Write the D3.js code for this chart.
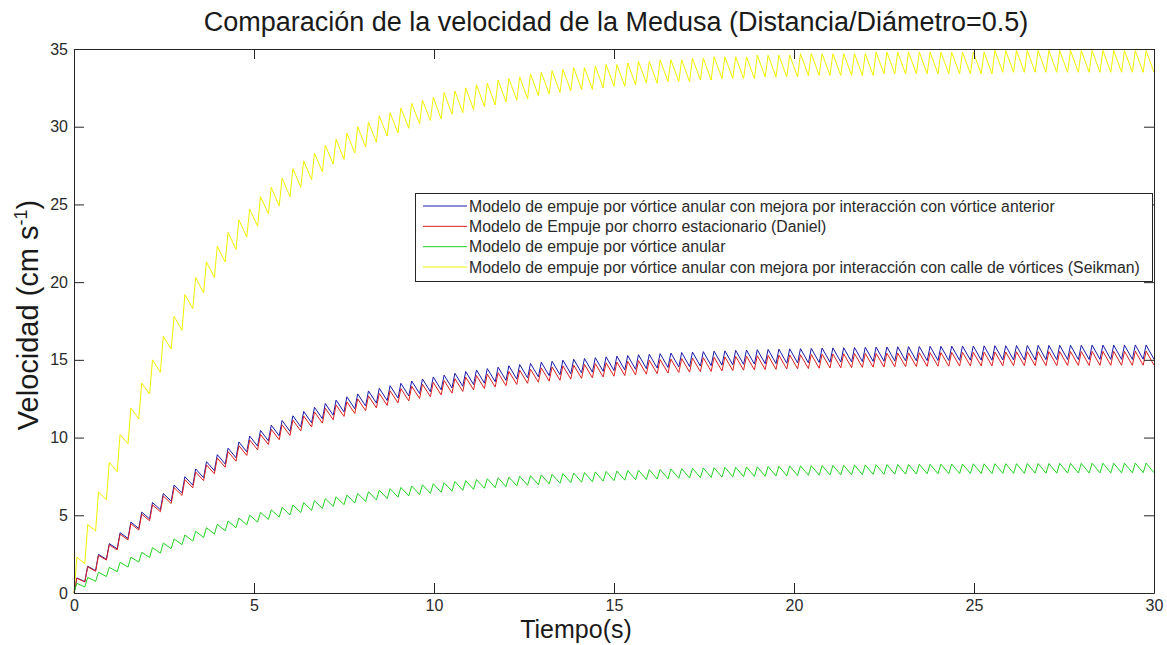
<!DOCTYPE html>
<html>
<head>
<meta charset="utf-8">
<script src="https://cdn.jsdelivr.net/npm/d3@7"></script>
<style>
  html, body { margin: 0; padding: 0; background: #fff; }
  svg { display: block; font-family: "Liberation Sans", Arial, Helvetica, sans-serif; }
</style>
</head>
<body>
<svg id="chart" width="1167" height="645"></svg>
<script>
// Pulse timing: one contraction every 0.3 s, speed climbs during the first 0.08 s
const pulsePeriod = 0.3;
const riseTime = 0.08;

const xTicks = [0, 5, 10, 15, 20, 25, 30];
const yTicks = [0, 5, 10, 15, 20, 25, 30, 35];

const seriesNames = [
  "Modelo de empuje por vórtice anular con mejora por interacción con vórtice anterior",
  "Modelo de Empuje por chorro estacionario (Daniel)",
  "Modelo de empuje por vórtice anular",
  "Modelo de empuje por vórtice anular con mejora por interacción con calle de vórtices (Seikman)"
];
const seriesColors = ["#1a1aa8", "#dc2020", "#22d422", "#f2f200"];

// Peak speed reached in each pulse and the lowest speed before the next one (cm/s)
const peaksAnterior = [
  0.97, 1.72, 2.48, 3.18, 3.88, 4.56, 5.20, 5.82, 6.40, 6.95,
  7.48, 7.98, 8.45, 8.90, 9.32, 9.72, 10.10, 10.46, 10.80, 11.10,
  11.40, 11.68, 11.95, 12.19, 12.41, 12.62, 12.81, 13.00, 13.17, 13.34,
  13.49, 13.64, 13.77, 13.90, 14.02, 14.14, 14.25, 14.35, 14.44, 14.53,
  14.62, 14.70, 14.77, 14.85, 14.91, 14.98, 15.04, 15.09, 15.14, 15.19,
  15.24, 15.28, 15.33, 15.36, 15.40, 15.44, 15.47, 15.50, 15.53, 15.56,
  15.58, 15.61, 15.63, 15.65, 15.67, 15.69, 15.71, 15.72, 15.74, 15.76,
  15.77, 15.78, 15.80, 15.81, 15.82, 15.83, 15.84, 15.85, 15.86, 15.87,
  15.87, 15.88, 15.89, 15.89, 15.90, 15.91, 15.91, 15.92, 15.92, 15.93,
  15.93, 15.94, 15.94, 15.94, 15.95, 15.95, 15.95, 15.95, 15.96, 15.96
];
const troughsAnterior = [
  0.73, 1.44, 2.17, 2.84, 3.51, 4.15, 4.77, 5.36, 5.91, 6.44,
  6.94, 7.42, 7.87, 8.30, 8.70, 9.08, 9.45, 9.79, 10.11, 10.40,
  10.69, 10.95, 11.21, 11.44, 11.65, 11.85, 12.03, 12.22, 12.38, 12.54,
  12.68, 12.83, 12.95, 13.07, 13.19, 13.30, 13.41, 13.50, 13.59, 13.68,
  13.76, 13.84, 13.91, 13.98, 14.04, 14.11, 14.16, 14.21, 14.26, 14.31,
  14.35, 14.39, 14.44, 14.47, 14.51, 14.55, 14.57, 14.60, 14.63, 14.66,
  14.68, 14.71, 14.73, 14.75, 14.76, 14.78, 14.80, 14.81, 14.83, 14.85,
  14.86, 14.87, 14.89, 14.90, 14.91, 14.92, 14.93, 14.94, 14.95, 14.96,
  14.96, 14.97, 14.98, 14.98, 14.98, 14.99, 14.99, 15.00, 15.00, 15.01,
  15.01, 15.02, 15.02, 15.02, 15.03, 15.03, 15.03, 15.03, 15.04, 15.04
];

const peaksDaniel = [
  0.95, 1.68, 2.42, 3.10, 3.78, 4.45, 5.07, 5.67, 6.24, 6.78,
  7.29, 7.78, 8.24, 8.68, 9.09, 9.48, 9.85, 10.20, 10.53, 10.82,
  11.12, 11.39, 11.65, 11.89, 12.10, 12.30, 12.49, 12.68, 12.84, 13.01,
  13.15, 13.30, 13.43, 13.55, 13.67, 13.79, 13.89, 13.99, 14.08, 14.17,
  14.25, 14.33, 14.40, 14.48, 14.54, 14.61, 14.66, 14.71, 14.76, 14.81,
  14.86, 14.90, 14.95, 14.98, 15.02, 15.05, 15.08, 15.11, 15.14, 15.17,
  15.19, 15.22, 15.24, 15.26, 15.28, 15.30, 15.32, 15.33, 15.35, 15.37,
  15.38, 15.39, 15.41, 15.41, 15.42, 15.43, 15.44, 15.45, 15.46, 15.47,
  15.47, 15.48, 15.49, 15.49, 15.50, 15.51, 15.51, 15.52, 15.52, 15.53,
  15.53, 15.54, 15.54, 15.54, 15.55, 15.55, 15.55, 15.55, 15.56, 15.56
];
const troughsDaniel = [
  0.71, 1.40, 2.12, 2.77, 3.42, 4.05, 4.65, 5.23, 5.76, 6.28,
  6.77, 7.23, 7.67, 8.09, 8.48, 8.85, 9.21, 9.55, 9.86, 10.14,
  10.42, 10.68, 10.93, 11.15, 11.36, 11.55, 11.73, 11.91, 12.07, 12.23,
  12.36, 12.51, 12.63, 12.74, 12.86, 12.97, 13.07, 13.16, 13.25, 13.34,
  13.42, 13.49, 13.56, 13.63, 13.69, 13.76, 13.81, 13.85, 13.90, 13.95,
  13.99, 14.03, 14.08, 14.11, 14.15, 14.19, 14.21, 14.24, 14.26, 14.29,
  14.31, 14.34, 14.36, 14.38, 14.39, 14.41, 14.43, 14.44, 14.46, 14.48,
  14.49, 14.50, 14.52, 14.53, 14.54, 14.55, 14.56, 14.57, 14.58, 14.59,
  14.59, 14.60, 14.61, 14.61, 14.61, 14.62, 14.62, 14.63, 14.63, 14.63,
  14.63, 14.64, 14.64, 14.64, 14.65, 14.65, 14.65, 14.65, 14.66, 14.66
];

const peaksAnular = [
  0.62, 1.00, 1.33, 1.65, 1.97, 2.30, 2.62, 2.92, 3.21, 3.48,
  3.73, 3.97, 4.20, 4.42, 4.63, 4.82, 5.01, 5.19, 5.35, 5.51,
  5.66, 5.81, 5.94, 6.07, 6.19, 6.30, 6.41, 6.52, 6.61, 6.71,
  6.79, 6.88, 6.96, 7.03, 7.10, 7.17, 7.23, 7.30, 7.35, 7.41,
  7.46, 7.51, 7.55, 7.60, 7.64, 7.68, 7.72, 7.75, 7.79, 7.82,
  7.85, 7.88, 7.90, 7.93, 7.95, 7.98, 8.00, 8.02, 8.04, 8.06,
  8.08, 8.09, 8.11, 8.12, 8.14, 8.15, 8.17, 8.18, 8.19, 8.20,
  8.21, 8.22, 8.23, 8.24, 8.25, 8.26, 8.26, 8.27, 8.28, 8.28,
  8.29, 8.30, 8.30, 8.31, 8.31, 8.32, 8.32, 8.32, 8.33, 8.33,
  8.33, 8.34, 8.34, 8.34, 8.35, 8.35, 8.35, 8.35, 8.36, 8.36
];
const troughsAnular = [
  0.39, 0.75, 1.06, 1.37, 1.67, 1.99, 2.29, 2.57, 2.85, 3.11,
  3.34, 3.57, 3.79, 4.00, 4.20, 4.38, 4.56, 4.73, 4.88, 5.03,
  5.18, 5.32, 5.44, 5.57, 5.68, 5.79, 5.89, 5.99, 6.08, 6.17,
  6.25, 6.34, 6.41, 6.48, 6.55, 6.61, 6.67, 6.74, 6.78, 6.84,
  6.89, 6.93, 6.97, 7.02, 7.06, 7.10, 7.13, 7.16, 7.20, 7.23,
  7.26, 7.29, 7.31, 7.33, 7.35, 7.38, 7.40, 7.42, 7.44, 7.46,
  7.48, 7.49, 7.50, 7.51, 7.53, 7.54, 7.56, 7.57, 7.58, 7.59,
  7.60, 7.61, 7.62, 7.63, 7.64, 7.65, 7.65, 7.66, 7.67, 7.67,
  7.68, 7.69, 7.69, 7.69, 7.69, 7.70, 7.70, 7.70, 7.71, 7.71,
  7.71, 7.72, 7.72, 7.72, 7.73, 7.73, 7.73, 7.73, 7.74, 7.74
];

const peaksSeikman = [
  2.3, 4.4, 6.5, 8.4, 10.2, 11.9, 13.5, 15.0, 16.5, 17.8,
  19.2, 20.3, 21.3, 22.3, 23.2, 24.0, 24.7, 25.5, 26.1, 26.7,
  27.3, 27.8, 28.3, 28.8, 29.2, 29.6, 30.0, 30.3, 30.7, 30.9,
  31.2, 31.5, 31.7, 31.9, 32.2, 32.3, 32.5, 32.7, 32.8, 33.0,
  33.1, 33.2, 33.4, 33.5, 33.6, 33.7, 33.8, 33.8, 33.9, 34.0,
  34.0, 34.1, 34.2, 34.2, 34.3, 34.3, 34.3, 34.4, 34.4, 34.5,
  34.5, 34.5, 34.5, 34.6, 34.6, 34.6, 34.6, 34.7, 34.7, 34.7,
  34.7, 34.7, 34.7, 34.7, 34.8, 34.8, 34.8, 34.8, 34.8, 34.8,
  34.8, 34.8, 34.8, 34.8, 34.8, 34.9, 34.9, 34.9, 34.9, 34.9,
  34.9, 34.9, 34.9, 34.9, 34.9, 34.9, 34.9, 34.9, 34.9, 34.9
];
const troughsSeikman = [
  1.9, 4.0, 6.0, 7.8, 9.6, 11.2, 12.8, 14.2, 15.7, 16.9,
  18.3, 19.3, 20.3, 21.3, 22.1, 22.9, 23.6, 24.4, 24.9, 25.5,
  26.1, 26.6, 27.1, 27.6, 27.9, 28.3, 28.7, 29.0, 29.4, 29.6,
  29.9, 30.2, 30.4, 30.5, 30.8, 30.9, 31.1, 31.3, 31.4, 31.6,
  31.7, 31.8, 32.0, 32.1, 32.2, 32.3, 32.4, 32.4, 32.5, 32.6,
  32.6, 32.7, 32.8, 32.8, 32.9, 32.9, 32.9, 33.0, 33.0, 33.1,
  33.1, 33.1, 33.1, 33.2, 33.2, 33.2, 33.2, 33.3, 33.3, 33.3,
  33.3, 33.3, 33.3, 33.3, 33.4, 33.4, 33.4, 33.4, 33.4, 33.4,
  33.4, 33.4, 33.4, 33.4, 33.4, 33.5, 33.5, 33.5, 33.5, 33.5,
  33.5, 33.5, 33.5, 33.5, 33.5, 33.5, 33.5, 33.5, 33.5, 33.5
];

const seriesPeaks = [peaksAnterior, peaksDaniel, peaksAnular, peaksSeikman];
const seriesTroughs = [troughsAnterior, troughsDaniel, troughsAnular, troughsSeikman];

// ---- layout ----
const svg = d3.select("#chart");
const plot = { left: 74, right: 1154, top: 49, bottom: 593 };
const axisColor = "#262626";
const labelColor = "#2a2a2a";

const x = d3.scaleLinear().domain([0, 30]).range([plot.left, plot.right]);
const y = d3.scaleLinear().domain([0, 35]).range([plot.bottom, plot.top]);

// Turn each pulse into a rise-and-decay pair of vertices, starting from rest
function pulseTrace(peaks, troughs) {
  const pts = [[0, 0]];
  peaks.forEach((p, i) => {
    const t0 = i * pulsePeriod;
    pts.push([t0 + riseTime, p]);
    pts.push([t0 + pulsePeriod, troughs[i]]);
  });
  return pts;
}

const line = d3.line().x(d => x(d[0])).y(d => y(d[1]));

const traces = svg.append("g").attr("class", "traces");
seriesPeaks.forEach((peaks, i) => {
  traces.append("path")
    .datum(pulseTrace(peaks, seriesTroughs[i]))
    .attr("fill", "none")
    .attr("stroke", seriesColors[i])
    .attr("stroke-width", 1)
    .attr("stroke-linejoin", "miter")
    .attr("d", line);
});

// ---- axes (box with inward ticks on all four sides) ----
function styleAxis(g) {
  g.selectAll("path.domain").attr("stroke", axisColor).attr("stroke-width", 1);
  g.selectAll(".tick line").attr("stroke", axisColor).attr("stroke-width", 1);
  g.selectAll(".tick text")
    .attr("fill", labelColor)
    .style("font-size", "16px")
    .style("font-family", "\"Liberation Sans\", Arial, sans-serif");
}

svg.append("g")
  .attr("transform", `translate(0,${plot.bottom})`)
  .call(d3.axisBottom(x).tickValues(xTicks).tickSizeInner(-10).tickSizeOuter(0).tickPadding(7))
  .call(styleAxis);

svg.append("g")
  .attr("transform", `translate(0,${plot.top})`)
  .call(d3.axisTop(x).tickValues(xTicks).tickSizeInner(-10).tickSizeOuter(0).tickFormat(""))
  .call(styleAxis);

svg.append("g")
  .attr("transform", `translate(${plot.left},0)`)
  .call(d3.axisLeft(y).tickValues(yTicks).tickSizeInner(-10).tickSizeOuter(0).tickPadding(6))
  .call(styleAxis);

svg.append("g")
  .attr("transform", `translate(${plot.right},0)`)
  .call(d3.axisRight(y).tickValues(yTicks).tickSizeInner(-10).tickSizeOuter(0).tickFormat(""))
  .call(styleAxis);

// ---- titles ----
svg.append("text")
  .attr("x", 616)
  .attr("y", 31)
  .attr("text-anchor", "middle")
  .attr("fill", "#1a1a1a")
  .style("font-size", "27px")
  .text("Comparación de la velocidad de la Medusa (Distancia/Diámetro=0.5)");

svg.append("text")
  .attr("x", 576)
  .attr("y", 638)
  .attr("text-anchor", "middle")
  .attr("fill", "#1a1a1a")
  .style("font-size", "25px")
  .text("Tiempo(s)");

const yLabel = svg.append("text")
  .attr("transform", "translate(38,315) rotate(-90)")
  .attr("text-anchor", "middle")
  .attr("fill", "#1a1a1a")
  .style("font-size", "29px");
yLabel.append("tspan").text("Velocidad (cm s");
yLabel.append("tspan").attr("dy", -11).style("font-size", "18px").text("-1");
yLabel.append("tspan").attr("dy", 11).text(")");

// ---- legend ----
const legend = svg.append("g").attr("class", "legend");
legend.append("rect")
  .attr("x", 415.5).attr("y", 193.5)
  .attr("width", 737).attr("height", 88)
  .attr("fill", "#fff")
  .attr("stroke", axisColor)
  .attr("stroke-width", 1);

const rowY = d3.scaleLinear().domain([0, 3]).range([206, 267]);
seriesNames.forEach((name, i) => {
  const ry = rowY(i);
  legend.append("line")
    .attr("x1", 423).attr("x2", 467)
    .attr("y1", ry).attr("y2", ry)
    .attr("stroke", seriesColors[i])
    .attr("stroke-width", 1);
  legend.append("text")
    .attr("x", 469)
    .attr("y", ry + 5.5)
    .attr("fill", labelColor)
    .style("font-size", "15.8px")
    .text(name);
});
</script>
</body>
</html>
